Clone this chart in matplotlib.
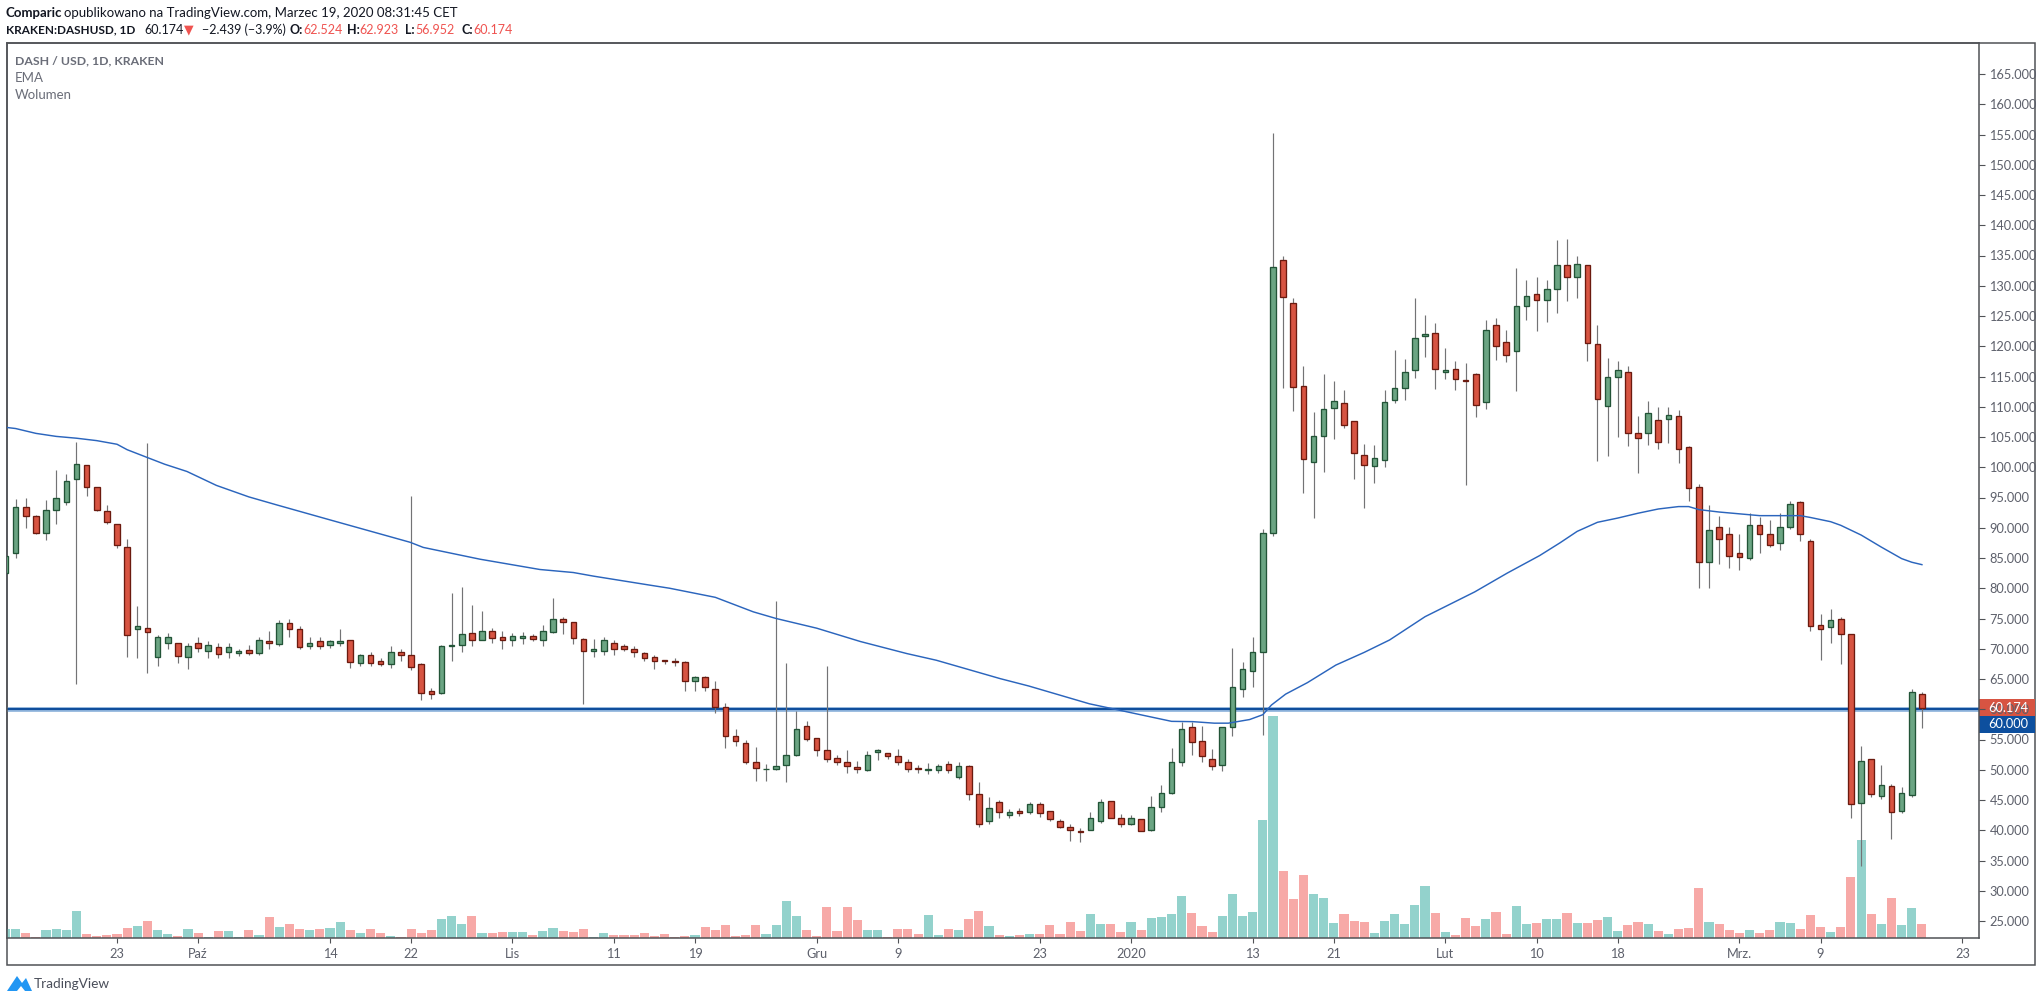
# DASH / USD daily candles with EMA and volume, TradingView look

import numpy as np
import matplotlib
matplotlib.use("Agg")
import matplotlib.pyplot as plt
from matplotlib.patches import Rectangle, Polygon

W, H = 2041, 1002

# days counted from 2020-01-01, first candle is 2019-09-12, last 2020-03-19
first_day = -111

opens = [
    82.6, 85.8, 93.5, 91.9, 89.2, 92.9, 94.2, 98.0, 100.3, 96.7,
    92.7, 90.7, 86.9, 73.2, 73.4, 68.7, 71.0, 70.9, 68.6, 71.0,
    69.7, 70.3, 69.5, 69.3, 69.8, 69.3, 71.3, 70.8, 74.2, 73.2,
    70.5, 71.2, 70.6, 71.0, 71.5, 67.7, 69.0, 68.0, 67.4, 69.5,
    69.0, 67.4, 63.0, 62.7, 70.5, 70.7, 72.6, 71.5, 73.0, 71.9,
    71.4, 71.7, 72.1, 71.4, 72.7, 75.0, 74.4, 71.6, 69.6, 69.6,
    71.0, 70.4, 70.0, 69.3, 68.6, 68.1, 68.0, 67.75, 64.6, 65.3,
    63.3, 60.3, 55.5, 54.4, 51.2, 50.1, 50.2, 50.8, 52.5, 57.2,
    55.2, 53.2, 51.9, 51.2, 50.4, 50.0, 53.0, 52.7, 52.2, 51.2,
    50.3, 50.0, 49.9, 50.9, 48.8, 50.6, 46.0, 41.6, 44.6, 42.6,
    43.2, 43.0, 44.4, 43.1, 41.5, 40.5, 39.85, 40.1, 41.6, 44.8,
    42.0, 41.0, 41.8, 40.0, 43.9, 46.2, 51.2, 57.0, 54.7, 51.7,
    50.8, 57.0, 63.4, 66.4, 69.5, 89.1, 134.3, 127.1, 113.4, 100.9,
    105.2, 109.8, 110.6, 107.6, 102.0, 100.2, 101.2, 111.1, 113.1, 116.1,
    121.7, 122.2, 115.7, 116.2, 114.4, 115.4, 110.8, 123.5, 120.7, 119.2,
    126.7, 128.6, 127.6, 129.5, 133.5, 131.5, 133.4, 120.3, 110.2, 115.0,
    115.8, 105.6, 105.6, 107.8, 108.0, 108.4, 103.3, 96.8, 84.4, 90.2,
    88.9, 85.9, 85.0, 90.4, 88.9, 87.4, 90.2, 94.2, 87.8, 74.0,
    73.6, 74.9, 72.4, 44.55, 51.7, 45.6, 47.3, 43.2, 45.9, 62.524,
]
highs = [
    86.0, 94.7, 95.0, 92.1, 94.6, 99.5, 98.9, 104.2, 100.3, 96.7,
    93.8, 90.7, 88.1, 77.0, 104.0, 72.3, 72.6, 71.0, 71.0, 72.0,
    71.2, 71.0, 71.0, 70.0, 70.7, 72.0, 73.0, 74.8, 75.0, 73.8,
    72.0, 72.0, 71.5, 73.3, 71.5, 69.2, 69.5, 68.5, 70.5, 70.0,
    95.2, 67.7, 63.5, 70.6, 79.2, 80.2, 77.2, 76.2, 73.5, 73.0,
    72.6, 72.7, 72.4, 74.0, 78.4, 75.2, 74.5, 71.7, 71.6, 72.0,
    71.5, 70.8, 70.5, 69.5, 69.0, 68.2, 68.5, 67.9, 65.5, 65.5,
    64.7, 61.1, 56.8, 54.9, 53.7, 50.9, 77.9, 67.6, 59.7, 58.0,
    55.3, 67.1, 52.4, 53.3, 51.4, 53.1, 53.4, 52.8, 53.4, 51.8,
    50.8, 51.1, 50.9, 51.4, 51.3, 50.8, 48.0, 45.5, 45.0, 43.5,
    43.6, 44.6, 44.7, 43.1, 41.8, 41.1, 40.3, 43.0, 45.1, 44.9,
    42.7, 42.6, 41.9, 45.7, 47.5, 53.6, 57.9, 57.9, 57.2, 53.4,
    57.1, 70.1, 67.8, 72.0, 89.8, 155.2, 134.9, 128.0, 116.7, 109.1,
    115.4, 114.3, 112.8, 107.7, 103.8, 103.7, 112.8, 119.4, 117.9, 128.0,
    125.2, 123.8, 119.7, 117.6, 117.2, 115.6, 124.3, 124.7, 122.7, 133.0,
    131.0, 131.5, 131.0, 137.5, 137.7, 135.0, 133.5, 123.5, 118.0, 117.5,
    116.8, 108.5, 111.0, 110.0, 109.9, 109.5, 103.5, 97.2, 93.8, 91.9,
    90.2, 89.0, 92.5, 91.8, 91.2, 92.5, 94.5, 94.5, 88.2, 75.8,
    76.5, 75.3, 72.4, 53.9, 51.8, 50.8, 47.6, 47.2, 63.3, 62.923,
]
lows = [
    83.0, 85.0, 90.0, 89.0, 87.9, 90.7, 93.8, 64.2, 95.3, 92.8,
    90.7, 86.7, 68.7, 68.5, 66.0, 67.2, 70.0, 67.6, 66.7, 69.5,
    68.5, 68.5, 68.4, 68.8, 68.9, 68.9, 70.0, 70.5, 72.0, 70.0,
    70.0, 70.0, 70.2, 70.5, 66.9, 67.2, 67.1, 67.1, 66.9, 68.0,
    66.5, 61.5, 61.7, 62.5, 68.0, 69.5, 70.5, 71.4, 71.0, 70.0,
    70.5, 70.8, 71.2, 70.5, 72.6, 72.5, 70.8, 60.9, 68.6, 69.0,
    69.0, 69.6, 68.7, 68.0, 66.65, 67.5, 67.15, 63.0, 63.0, 63.0,
    59.4, 53.6, 53.9, 51.0, 48.2, 48.2, 50.0, 47.9, 52.3, 54.8,
    52.3, 51.2, 50.8, 49.5, 49.5, 49.8, 51.6, 51.8, 50.8, 49.7,
    49.5, 49.3, 49.5, 49.5, 48.5, 45.0, 40.5, 41.0, 42.0, 42.0,
    42.4, 42.7, 42.2, 41.5, 40.3, 38.3, 38.1, 40.0, 41.2, 42.0,
    40.5, 40.8, 39.8, 39.9, 43.0, 46.0, 50.6, 52.4, 51.3, 50.0,
    49.8, 55.6, 62.0, 63.7, 55.75, 88.6, 113.1, 109.3, 95.7, 91.6,
    99.2, 104.7, 106.5, 98.0, 93.3, 97.4, 100.0, 110.6, 111.1, 114.8,
    118.2, 112.9, 114.6, 112.8, 97.1, 108.3, 109.6, 117.7, 117.4, 112.6,
    124.3, 122.6, 124.0, 125.5, 127.5, 128.0, 117.5, 101.0, 101.8, 105.0,
    103.5, 99.0, 103.6, 103.0, 104.0, 100.7, 94.5, 80.0, 80.0, 84.0,
    83.4, 83.0, 84.6, 85.8, 86.8, 86.4, 89.8, 87.8, 73.0, 68.2,
    71.0, 67.4, 42.1, 34.1, 45.5, 45.2, 38.6, 42.9, 45.5, 56.952,
]
closes = [
    85.4, 93.5, 92.0, 89.2, 92.9, 94.9, 97.8, 100.6, 96.8, 93.0,
    91.0, 87.1, 72.3, 73.8, 72.8, 72.0, 72.0, 68.8, 70.5, 70.2,
    70.7, 69.2, 70.3, 69.6, 69.3, 71.5, 71.0, 74.3, 73.2, 70.3,
    71.0, 70.4, 71.2, 71.3, 67.8, 69.0, 67.7, 67.4, 69.5, 69.0,
    67.0, 62.7, 62.6, 70.5, 70.7, 72.4, 71.4, 73.0, 71.8, 71.4,
    72.1, 72.1, 71.6, 73.0, 75.0, 74.5, 71.8, 69.6, 69.9, 71.5,
    70.0, 70.0, 69.4, 68.5, 67.9, 68.0, 67.8, 64.6, 65.3, 63.6,
    60.3, 55.5, 54.8, 51.2, 50.3, 50.2, 50.7, 52.5, 56.8, 55.1,
    53.3, 51.8, 51.3, 50.7, 50.1, 52.5, 53.3, 52.3, 51.2, 50.1,
    50.1, 50.1, 50.6, 49.9, 50.7, 46.0, 41.1, 43.6, 43.0, 43.0,
    42.8, 44.4, 42.8, 41.8, 40.6, 40.1, 39.75, 42.1, 44.6, 42.1,
    41.1, 42.0, 39.9, 43.8, 46.1, 51.2, 56.8, 54.6, 52.3, 50.7,
    57.0, 63.6, 66.6, 69.4, 89.2, 133.1, 128.1, 113.3, 101.4, 105.2,
    109.6, 110.9, 107.0, 102.4, 100.4, 101.5, 110.8, 113.1, 115.7, 121.4,
    122.0, 116.2, 116.1, 114.6, 114.3, 110.3, 122.7, 120.0, 118.6, 126.7,
    128.3, 127.6, 129.5, 133.4, 131.5, 133.6, 120.5, 111.2, 114.9, 116.0,
    105.6, 104.8, 108.9, 104.1, 108.6, 103.0, 96.6, 84.3, 89.7, 88.2,
    85.4, 85.2, 90.4, 88.9, 87.2, 90.2, 94.0, 88.9, 73.8, 73.2,
    74.7, 72.5, 44.4, 51.5, 46.0, 47.4, 43.0, 46.1, 62.8, 60.174,
]
# volume read as bar height above the baseline
volumes = [
    9, 9, 5, 1, 8, 9, 8, 27, 4, 2,
    3, 4, 10, 12, 17, 8, 4, 2, 9, 5,
    1, 7, 7, 1, 8, 3, 21, 11, 14, 9,
    8, 9, 10, 16, 8, 5, 9, 5, 2, 1,
    9, 5, 8, 19, 22, 14, 22, 5, 5, 6,
    6, 6, 3, 7, 10, 7, 6, 9, 1, 5,
    3, 3, 3, 5, 2, 4, 1, 2, 3, 11,
    8, 13, 2, 3, 13, 4, 13, 37, 22, 8,
    2, 31, 7, 31, 18, 8, 8, 1, 9, 9,
    4, 23, 3, 9, 8, 19, 27, 12, 3, 2,
    3, 4, 4, 13, 4, 16, 7, 24, 14, 14,
    6, 16, 8, 20, 21, 24, 42, 25, 12, 6,
    22, 44, 22, 26, 118, 222, 67, 39, 63, 44,
    40, 15, 24, 17, 16, 5, 17, 24, 14, 33,
    52, 25, 6, 3, 20, 12, 19, 26, 4, 32,
    14, 15, 19, 19, 25, 15, 15, 18, 21, 7,
    13, 16, 14, 7, 4, 9, 10, 50, 16, 14,
    8, 5, 8, 5, 8, 16, 15, 9, 23, 11,
    6, 11, 61, 98, 24, 14, 40, 13, 30, 14,
]

ema_days = [
    -111, -110, -108, -106, -104, -102, -100, -99, -97, -95.3, -93.1, -90.2, -87, -84.3,
    -79, -71.1, -69.8, -64.2, -58.3, -55, -53, -47.4, -45.5, -41, -37.25, -35, -31,
    -26.7, -22.1, -19.2, -12.9, -10.1, -4.1, -2, 1.2, 4, 6.1, 8.2, 9.6, 11.7, 13,
    13.85, 15.25, 17.4, 20.2, 23, 25.5, 29, 33.9, 37.1, 40.3, 42.3, 44, 46, 48, 50,
    52, 54, 55, 56, 58, 60, 62, 64, 66, 67, 69, 70, 72, 74, 76, 77, 78,
]
ema_values = [
    106.6, 106.4, 105.6, 105.1, 104.8, 104.4, 103.8, 102.9, 101.6, 100.5, 99.3, 97.0, 95.1, 93.8,
    91.3, 87.6, 86.75, 84.8, 83.1, 82.6, 82.0, 80.5, 80.0, 78.5, 76.1, 75.0, 73.4,
    71.2, 69.2, 68.1, 65.06, 63.85, 60.9, 60.15, 59.0, 58.0, 57.95, 57.7, 57.7, 58.3, 59.1,
    60.7, 62.5, 64.4, 67.3, 69.4, 71.45, 75.3, 79.4, 82.5, 85.4, 87.5, 89.4, 90.9, 91.6, 92.4,
    93.1, 93.5, 93.5, 93.0, 92.6, 92.3, 92.0, 92.0, 92.0, 91.7, 91.0, 90.4, 88.8, 86.8, 84.9, 84.3, 83.9,
]

level = 60.0
price_ticks = list(range(25, 170, 5))
date_ticks = [-100, -92, -79, -71, -61, -51, -43, -31, -23, -9, 0, 12, 20, 31, 40, 48, 60, 68, 82]
date_labels = ["23", "Paź", "14", "22", "Lis", "11", "19", "Gru", "9", "23", "2020",
               "13", "21", "Lut", "10", "18", "Mrz.", "9", "23"]

UP, UP_EDGE = "#6BA583", "#225437"
DOWN, DOWN_EDGE = "#D75442", "#6B1A0F"
WICK = "#737375"
VOL_UP, VOL_DOWN = "#93D2CC", "#F7A9A7"
FRAME = "#505256"
TEXT = "#5D606B"

plt.rcParams["font.family"] = ["Lato", "DejaVu Sans"]

fig = plt.figure(figsize=(W / 100, H / 100), dpi=100, facecolor="white")


def fx(x):
    return x / W


def fy(y):
    return 1 - y / H


def label(x, y, s, **kw):
    kw.setdefault("fontsize", 9.5)
    kw.setdefault("color", "#131722")
    kw.setdefault("va", "center")
    return fig.text(fx(x), fy(y), s, **kw)


left, right, top, bottom = 6.5, 1979, 43, 938
rect = [fx(left), fy(bottom), fx(right - left), (bottom - top) / H]

ax_vol = fig.add_axes(rect, zorder=1)
ax = fig.add_axes(rect, zorder=2)
ax.patch.set_visible(False)

days = np.arange(first_day, first_day + len(closes))
opens = np.array(opens)
closes = np.array(closes)
up = closes >= opens

ax_vol.bar(days, volumes, width=0.9, color=[VOL_UP if u else VOL_DOWN for u in up], linewidth=0)
ax_vol.set_ylim(0, bottom - top)
ax_vol.set_xlim(-110.9, 83.63)
ax_vol.axis("off")

ax.axhline(level, color="#8FB4DC", lw=3.4, zorder=2)
ax.axhline(level, color="#0F4E9C", lw=1.5, zorder=2.1)

ax.vlines(days, lows, highs, color=WICK, lw=0.85, zorder=3)
ax.bar(days, np.abs(closes - opens), bottom=np.minimum(opens, closes), width=0.55,
       color=[UP if u else DOWN for u in up],
       edgecolor=[UP_EDGE if u else DOWN_EDGE for u in up], linewidth=0.95, zorder=4)
ax.plot(ema_days, ema_values, color="#2B65BD", lw=1.05, zorder=5)

ax.set_xlim(-110.9, 83.63)
ax.set_ylim(25 - 17 / 6.05, 165 + 31 / 6.05)

ax.yaxis.tick_right()
ax.set_yticks(price_ticks)
ax.set_yticklabels([f"{p}.000" for p in price_ticks])
ax.tick_params(axis="y", length=4, width=0.8, color=FRAME, labelcolor=TEXT, labelsize=9.2, pad=3.5)
ax.set_xticks(date_ticks)
ax.set_xticklabels(date_labels)
ax.tick_params(axis="x", length=3.5, width=0.8, color=FRAME, labelcolor=TEXT, labelsize=9.2, pad=3.5)
for s in ax.spines.values():
    s.set_color(FRAME)
    s.set_linewidth(1.1)

# outer box round the chart and both axis strips
fig.add_artist(Rectangle((fx(left), fy(965)), fx(2035 - left), (965 - top) / H,
                         fill=False, edgecolor=FRAME, linewidth=1.1, transform=fig.transFigure))

# last price and level tags on the price scale
fig.add_artist(Rectangle((fx(right), fy(716)), fx(2035 - right), 17 / H, facecolor=DOWN,
                         edgecolor="none", transform=fig.transFigure))
fig.add_artist(Rectangle((fx(right), fy(733)), fx(2035 - right), 17 / H, facecolor="#0D4F9E",
                         edgecolor="none", transform=fig.transFigure))
label(1988, 707.5, "60.174", color="white", fontsize=9.2)
label(1988, 724.5, "60.000", color="white", fontsize=9.2)

# header
label(6, 13, "Comparic", fontweight="bold")
label(64, 13, "opublikowano na TradingView.com, Marzec 19, 2020 08:31:45 CET")
label(6, 29.7, "KRAKEN:DASHUSD, 1D", fontweight="bold", fontsize=8.5)
label(144, 29.7, "60.174", fontsize=9)
label(184, 29.7, "▼", color="#EF5350", family="DejaVu Sans", fontsize=9)
label(202, 29.7, "−2.439 (−3.9%)", fontsize=9)
RED = "#EF5350"
for x_key, key, x_val, val in [(289, "O:", 303, "62.524"), (347, "H:", 359, "62.923"),
                               (405, "L:", 415, "56.952"), (461, "C:", 473, "60.174")]:
    label(x_key, 29.7, key, fontweight="bold", fontsize=9)
    label(x_val, 29.7, val, color=RED, fontsize=9)

# legend lines inside the chart
label(15, 60.5, "DASH / USD, 1D, KRAKEN", color="#6A6D78", fontweight="bold", fontsize=8.8)
label(15, 77.7, "EMA", color="#6A6D78")
label(15, 95, "Wolumen", color="#6A6D78")

# TradingView mark
fig.add_artist(Polygon([(fx(7), fy(991)), (fx(17), fy(976)), (fx(22), fy(983)), (fx(26), fy(978)),
                        (fx(32), fy(991)), (fx(25), fy(991)), (fx(21), fy(986)), (fx(17), fy(991))],
                       closed=True, facecolor="#2196F3", edgecolor="none", transform=fig.transFigure))
label(34, 983.5, "TradingView", fontsize=9.8, color="#4A4E5A")

fig.savefig("out.png", dpi=100, facecolor="white")
